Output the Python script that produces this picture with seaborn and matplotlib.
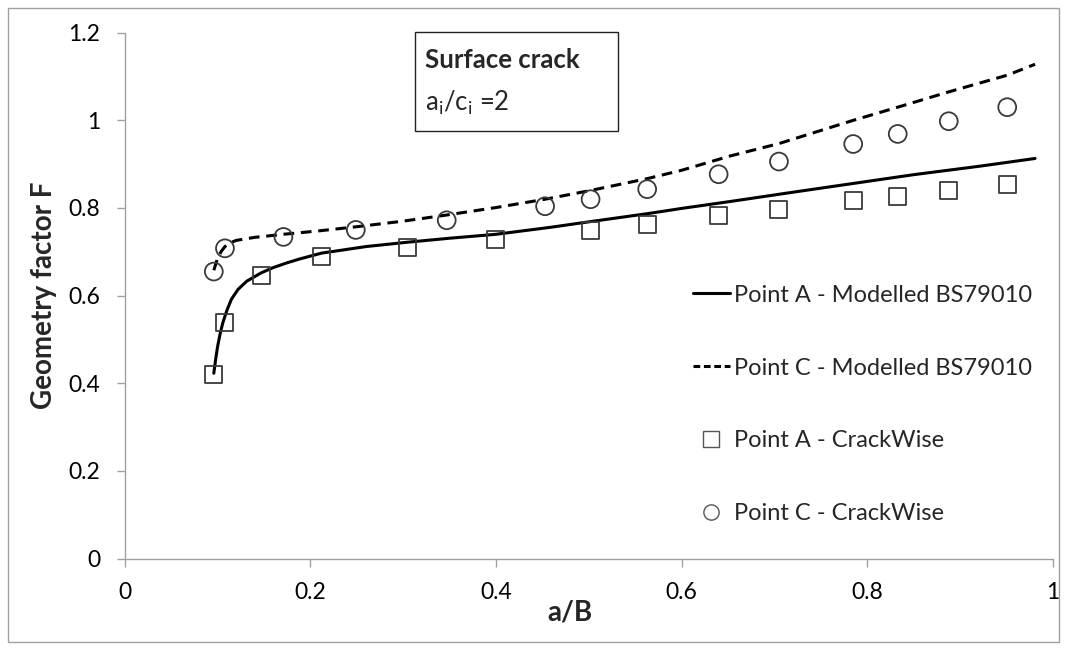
import matplotlib
matplotlib.use("Agg")
import matplotlib.pyplot as plt
from matplotlib.patches import Rectangle
from matplotlib.lines import Line2D
import seaborn as sns

# ---- data ----
line_a_x = [0.096, 0.098, 0.100, 0.103, 0.1057, 0.110, 0.115, 0.122, 0.1315, 0.147, 0.160, 0.175,
            0.189, 0.212, 0.260, 0.305, 0.350, 0.400, 0.459, 0.502, 0.563, 0.600, 0.653, 0.720,
            0.785, 0.850, 0.920, 0.981]
line_a_y = [0.423, 0.455, 0.483, 0.515, 0.538, 0.566, 0.592, 0.614, 0.633, 0.652, 0.664, 0.675,
            0.684, 0.697, 0.712, 0.722, 0.731, 0.740, 0.756, 0.769, 0.787, 0.799, 0.815, 0.836,
            0.856, 0.876, 0.895, 0.913]

line_c_x = [0.096, 0.100, 0.104, 0.108, 0.113, 0.120, 0.140, 0.171, 0.210, 0.249, 0.300, 0.347,
            0.400, 0.453, 0.502, 0.563, 0.600, 0.653, 0.705, 0.785, 0.833, 0.888, 0.951, 0.981]
line_c_y = [0.658, 0.685, 0.701, 0.712, 0.720, 0.726, 0.733, 0.740, 0.748, 0.757, 0.770, 0.784,
            0.801, 0.820, 0.840, 0.867, 0.886, 0.919, 0.947, 1.000, 1.030, 1.065, 1.103, 1.128]

crack_a_x = [0.096, 0.107, 0.147, 0.212, 0.305, 0.400, 0.502, 0.563, 0.640, 0.705, 0.785, 0.833, 0.888, 0.951]
crack_a_y = [0.419, 0.538, 0.647, 0.689, 0.711, 0.728, 0.748, 0.763, 0.782, 0.797, 0.816, 0.827, 0.839, 0.853]

crack_c_x = [0.096, 0.108, 0.171, 0.249, 0.347, 0.453, 0.502, 0.563, 0.640, 0.705, 0.785, 0.833, 0.888, 0.951]
crack_c_y = [0.655, 0.708, 0.734, 0.750, 0.772, 0.804, 0.820, 0.843, 0.877, 0.906, 0.946, 0.969, 0.998, 1.030]

labels = ["Point A - Modelled BS79010", "Point C - Modelled BS79010",
          "Point A - CrackWise", "Point C - CrackWise"]
x_ticks = [0, 0.2, 0.4, 0.6, 0.8, 1]
x_tick_labels = ["0", "0.2", "0.4", "0.6", "0.8", "1"]
y_ticks = [0, 0.2, 0.4, 0.6, 0.8, 1.0, 1.2]
y_tick_labels = ["0", "0.2", "0.4", "0.6", "0.8", "1", "1.2"]

sns.set_style("white")
plt.rcParams["font.family"] = ["Lato", "DejaVu Sans"]
plt.rcParams["mathtext.fontset"] = "custom"
plt.rcParams["mathtext.rm"] = "Lato"

fig = plt.figure(figsize=(10.67, 6.5), dpi=100)
ax = fig.add_axes([0.1169, 0.1406, 0.8697, 0.8091])

sns.lineplot(x=line_a_x, y=line_a_y, ax=ax, color="black", linewidth=2.2,
             sort=False, estimator=None, label=labels[0])
sns.lineplot(x=line_c_x, y=line_c_y, ax=ax, color="black", linewidth=2.2,
             linestyle=(0, (3.5, 2.2)), sort=False, estimator=None, label=labels[1])
sns.scatterplot(x=crack_a_x, y=crack_a_y, ax=ax, marker="s", s=150,
                facecolors="none", edgecolors="#3a3a3a", linewidths=1.3, label=labels[2], zorder=3)
sns.scatterplot(x=crack_c_x, y=crack_c_y, ax=ax, marker="o", s=165,
                facecolors="none", edgecolors="#3a3a3a", linewidths=1.3, label=labels[3], zorder=3)

ax.set_xlim(0, 1)
ax.set_ylim(0, 1.2)
ax.set_xticks(x_ticks)
ax.set_xticklabels(x_tick_labels)
ax.set_yticks(y_ticks)
ax.set_yticklabels(y_tick_labels)

for s in ["top", "right"]:
    ax.spines[s].set_visible(False)
for s in ["left", "bottom"]:
    ax.spines[s].set_color("#a0a0a0")
    ax.spines[s].set_linewidth(1.0)
ax.tick_params(axis="both", which="major", direction="out", length=5.8, width=1,
               color="#a0a0a0", labelsize=16.5, labelcolor="black",
               left=True, bottom=True)
ax.tick_params(axis="y", pad=12)
ax.tick_params(axis="x", pad=11)

ax.set_xlabel("a/B", fontsize=20, fontweight="bold")
ax.set_ylabel("Geometry factor F", fontsize=20, fontweight="bold")
ax.xaxis.set_label_coords(0.480, -0.078)
ax.yaxis.set_label_coords(-0.073, 0.5)

# legend
h = [Line2D([], [], color="black", lw=2.2),
     Line2D([], [], color="black", lw=2.2, linestyle=(0, (2.2, 1.2))),
     Line2D([], [], marker="s", linestyle="none", markersize=11, markerfacecolor="none",
            markeredgecolor="#555555", markeredgewidth=1.0),
     Line2D([], [], marker="o", linestyle="none", markersize=11, markerfacecolor="none",
            markeredgecolor="#555555", markeredgewidth=1.0)]
ax.legend(h, labels, loc="center left", bbox_to_anchor=(0.589, 0.293), frameon=False,
          fontsize=17, labelspacing=2.2, handlelength=1.6, handletextpad=0.15)

# text box
fig.patches.append(Rectangle((415 / 1067, 1 - 131 / 650), 203 / 1067, 99 / 650,
                             transform=fig.transFigure, fill=False, edgecolor="#222222", lw=1.0))
fig.text(425 / 1067, 1 - 60 / 650, "Surface crack", fontsize=18.5, fontweight="bold",
         va="center", ha="left")
fig.text(425 / 1067, 1 - 103 / 650, r"a$_\mathregular{i}$/c$_\mathregular{i}$ =2", fontsize=18.5,
         va="center", ha="left")

# outer chart border
fig.patches.append(Rectangle((8 / 1067, 8 / 650), 1051 / 1067, 634 / 650,
                             transform=fig.transFigure, fill=False, edgecolor="#a0a0a0", lw=1.0))

fig.savefig("out.png", dpi=100)
